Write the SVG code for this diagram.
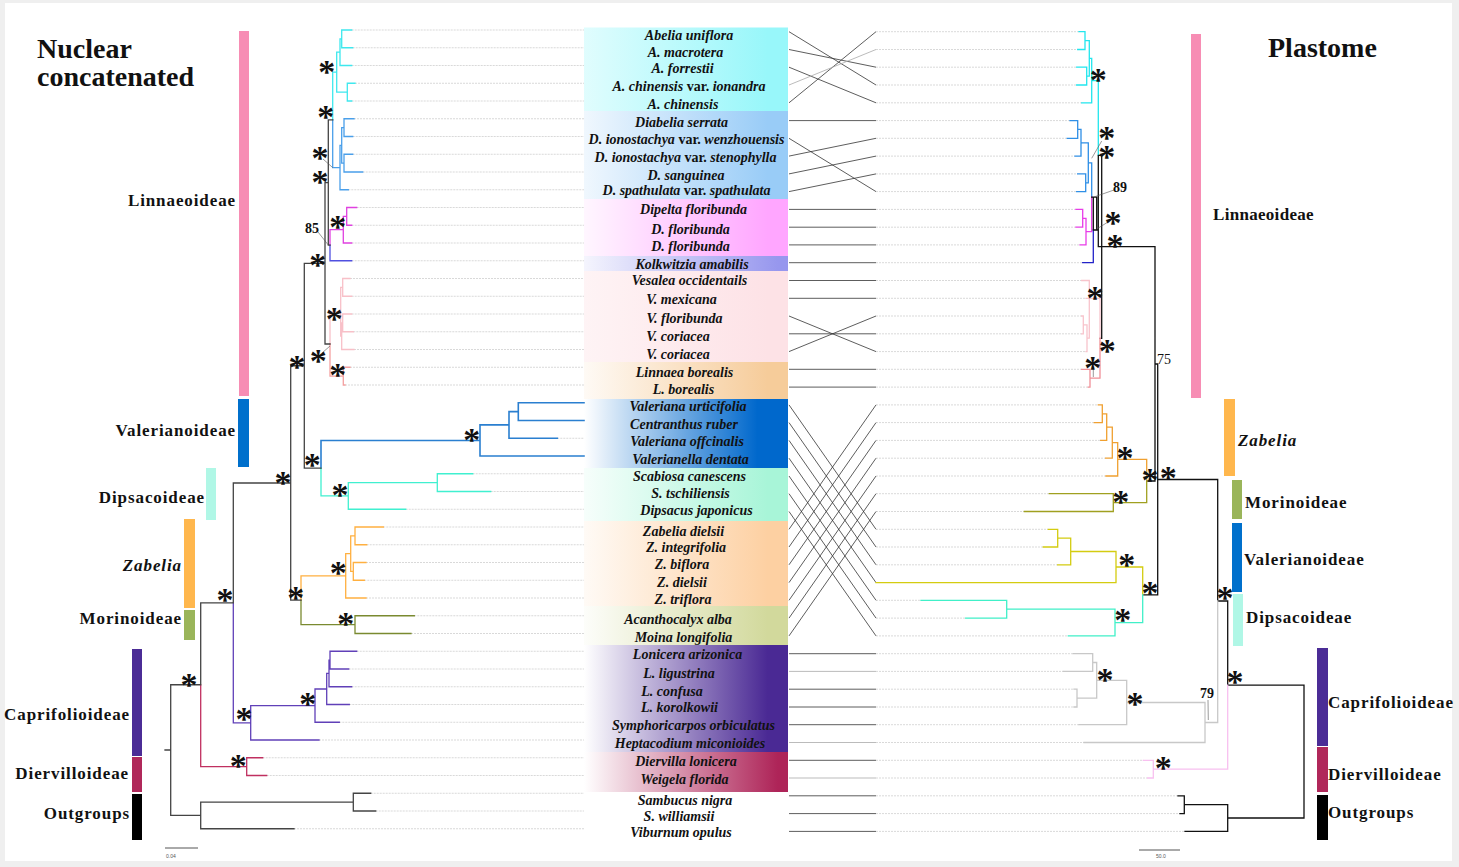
<svg xmlns="http://www.w3.org/2000/svg" width="1459" height="867" viewBox="0 0 1459 867">
<style>
.tx{font-family:"Liberation Serif",serif;font-weight:bold;font-style:italic;font-size:14px;text-anchor:middle;fill:#111}
.up{font-style:normal}
.cl{font-family:"Liberation Serif",serif;font-weight:bold;font-size:17px;letter-spacing:0.9px;fill:#111}
.cle{font-family:"Liberation Serif",serif;font-weight:bold;font-size:17px;letter-spacing:0.9px;fill:#111;text-anchor:end}
.ti{font-family:"Liberation Serif",serif;font-weight:bold;font-size:28px;fill:#111}
.st{font-family:"Liberation Serif",serif;font-weight:bold;font-size:34px;text-anchor:middle;fill:#111}
.num{font-family:"Liberation Serif",serif;font-weight:bold;font-size:14px;text-anchor:middle;fill:#111}
.sm{font-family:"Liberation Sans",sans-serif;font-size:5px;fill:#555}
.br{fill:none;stroke-width:1.3;stroke-linecap:square}
.dot{fill:none;stroke:#cfcfcf;stroke-width:0.8;stroke-dasharray:2 1}
.tg{fill:none;stroke:#333;stroke-width:0.8}
.ld{fill:none;stroke:#555;stroke-width:0.6}
</style>
<defs>
<linearGradient id="gAb" x1="0" x2="1" y1="0" y2="0"><stop offset="0" stop-color="#98f7fa" stop-opacity="0.3"/><stop offset="0.9" stop-color="#98f7fa"/></linearGradient>
<linearGradient id="gDi" x1="0" x2="1" y1="0" y2="0"><stop offset="0" stop-color="#99ccf7" stop-opacity="0.15"/><stop offset="0.9" stop-color="#99ccf7"/></linearGradient>
<linearGradient id="gDp" x1="0" x2="1" y1="0" y2="0"><stop offset="0" stop-color="#ffa6ff" stop-opacity="0.1"/><stop offset="0.9" stop-color="#ffa6ff"/></linearGradient>
<linearGradient id="gKo" x1="0" x2="1" y1="0" y2="0"><stop offset="0" stop-color="#9797ee" stop-opacity="0.1"/><stop offset="0.95" stop-color="#9797ee"/></linearGradient>
<linearGradient id="gVe" x1="0" x2="1" y1="0" y2="0"><stop offset="0" stop-color="#fde2e6" stop-opacity="0.4"/><stop offset="0.9" stop-color="#fde2e6"/></linearGradient>
<linearGradient id="gLi" x1="0" x2="1" y1="0" y2="0"><stop offset="0" stop-color="#f6cc9a" stop-opacity="0.1"/><stop offset="0.9" stop-color="#f6cc9a"/></linearGradient>
<linearGradient id="gVa" x1="0" x2="1" y1="0" y2="0"><stop offset="0" stop-color="#0068cc" stop-opacity="0"/><stop offset="0.85" stop-color="#0068cc"/></linearGradient>
<linearGradient id="gDs" x1="0" x2="1" y1="0" y2="0"><stop offset="0" stop-color="#a8f5d8" stop-opacity="0.1"/><stop offset="0.9" stop-color="#a8f5d8"/></linearGradient>
<linearGradient id="gZa" x1="0" x2="1" y1="0" y2="0"><stop offset="0" stop-color="#fdd0a2" stop-opacity="0.1"/><stop offset="0.9" stop-color="#fdd0a2"/></linearGradient>
<linearGradient id="gMo" x1="0" x2="1" y1="0" y2="0"><stop offset="0" stop-color="#d2d99c" stop-opacity="0.05"/><stop offset="0.9" stop-color="#d2d99c"/></linearGradient>
<linearGradient id="gCa" x1="0" x2="1" y1="0" y2="0"><stop offset="0" stop-color="#4a2994" stop-opacity="0"/><stop offset="0.9" stop-color="#4a2994"/></linearGradient>
<linearGradient id="gDv" x1="0" x2="1" y1="0" y2="0"><stop offset="0" stop-color="#ae2458" stop-opacity="0"/><stop offset="0.95" stop-color="#ae2458"/></linearGradient>
</defs>
<rect x="0" y="0" width="1459" height="867" fill="#efefef"/>
<rect x="5" y="3" width="1447" height="858" fill="#fff"/>

<g id="titles">
<text class="ti" x="37" y="58">Nuclear</text>
<text class="ti" x="37" y="86">concatenated</text>
<text class="ti" x="1268" y="57">Plastome</text>
</g>

<g id="left-clades">
<rect x="239" y="31" width="10" height="365" fill="#f78db4"/>
<text class="cle" x="236" y="206">Linnaeoideae</text>
<rect x="238" y="399" width="11" height="68" fill="#0070cc"/>
<text class="cle" x="236" y="436">Valerianoideae</text>
<rect x="206" y="468" width="10" height="52" fill="#b0f7e6"/>
<text class="cle" x="205" y="503">Dipsacoideae</text>
<rect x="184" y="519" width="11" height="89" fill="#ffb74d"/>
<text class="cle" x="182" y="571" style="font-style:italic">Zabelia</text>
<rect x="184" y="610" width="11" height="30" fill="#9ab55a"/>
<text class="cle" x="182" y="624">Morinoideae</text>
<rect x="132" y="649" width="10" height="107" fill="#4b2c96"/>
<text class="cle" x="130" y="720">Caprifolioideae</text>
<rect x="132" y="757" width="10" height="35" fill="#b0285a"/>
<text class="cle" x="129" y="779">Diervilloideae</text>
<rect x="132" y="794" width="10" height="46" fill="#000"/>
<text class="cle" x="130" y="819">Outgroups</text>
</g>

<g id="right-clades">
<rect x="1191" y="34" width="10" height="364" fill="#f78db4"/>
<text class="cl" x="1213" y="220" style="letter-spacing:0.3px">Linnaeoideae</text>
<rect x="1224" y="399" width="11" height="77" fill="#ffb74d"/>
<text class="cl" x="1238" y="446" style="font-style:italic">Zabelia</text>
<rect x="1232" y="480" width="10" height="39" fill="#9ab55a"/>
<text class="cl" x="1245" y="508">Morinoideae</text>
<rect x="1232" y="523" width="10" height="69" fill="#0070cc"/>
<text class="cl" x="1244" y="565">Valerianoideae</text>
<rect x="1233" y="594" width="10" height="52" fill="#b0f7e6"/>
<text class="cl" x="1246" y="623">Dipsacoideae</text>
<rect x="1317" y="648" width="11" height="98" fill="#4b2c96"/>
<text class="cl" x="1328" y="708">Caprifolioideae</text>
<rect x="1317" y="747" width="11" height="45" fill="#b0285a"/>
<text class="cl" x="1328" y="780">Diervilloideae</text>
<rect x="1317" y="795" width="11" height="45" fill="#000"/>
<text class="cl" x="1328" y="818">Outgroups</text>
</g>

<g id="bands">
<rect x="584" y="27.5" width="204" height="83.5" fill="url(#gAb)"/>
<rect x="584" y="111" width="204" height="88" fill="url(#gDi)"/>
<rect x="584" y="199" width="204" height="57" fill="url(#gDp)"/>
<rect x="584" y="256" width="204" height="15" fill="url(#gKo)"/>
<rect x="584" y="271" width="204" height="91" fill="url(#gVe)"/>
<rect x="584" y="362" width="204" height="37" fill="url(#gLi)"/>
<rect x="584" y="399" width="204" height="69" fill="url(#gVa)"/>
<rect x="584" y="468" width="204" height="53" fill="url(#gDs)"/>
<rect x="584" y="521" width="204" height="85" fill="url(#gZa)"/>
<rect x="584" y="606" width="204" height="39" fill="url(#gMo)"/>
<rect x="584" y="645" width="204" height="107" fill="url(#gCa)"/>
<rect x="584" y="752" width="204" height="40" fill="url(#gDv)"/>
</g>

<g id="taxa">
<text class="tx" x="689" y="40">Abelia uniflora</text>
<text class="tx" x="685.5" y="57">A. macrotera</text>
<text class="tx" x="682.5" y="73">A. forrestii</text>
<text class="tx" x="689" y="91">A. chinensis <tspan class="up">var.</tspan> ionandra</text>
<text class="tx" x="683" y="108.5">A. chinensis</text>
<text class="tx" x="681.5" y="126.5">Diabelia serrata</text>
<text class="tx" x="686.5" y="144">D. ionostachya <tspan class="up">var.</tspan> wenzhouensis</text>
<text class="tx" x="685.5" y="162">D. ionostachya <tspan class="up">var.</tspan> stenophylla</text>
<text class="tx" x="686" y="180">D. sanguinea</text>
<text class="tx" x="686.5" y="195">D. spathulata <tspan class="up">var.</tspan> spathulata</text>
<text class="tx" x="693.5" y="214">Dipelta floribunda</text>
<text class="tx" x="690.5" y="233.5">D. floribunda</text>
<text class="tx" x="690.5" y="251">D. floribunda</text>
<text class="tx" x="692" y="268.5">Kolkwitzia amabilis</text>
<text class="tx" x="689.5" y="285">Vesalea occidentails</text>
<text class="tx" x="681.5" y="304">V. mexicana</text>
<text class="tx" x="684.5" y="323">V. floribunda</text>
<text class="tx" x="678" y="341">V. coriacea</text>
<text class="tx" x="678" y="359">V. coriacea</text>
<text class="tx" x="684.5" y="377">Linnaea borealis</text>
<text class="tx" x="683.5" y="394">L. borealis</text>
<text class="tx" x="688" y="411">Valeriana urticifolia</text>
<text class="tx" x="684" y="428.5">Centranthus ruber</text>
<text class="tx" x="687" y="446">Valeriana offcinalis</text>
<text class="tx" x="690.5" y="464">Valerianella dentata</text>
<text class="tx" x="689.5" y="480.5">Scabiosa canescens</text>
<text class="tx" x="690.5" y="498">S. tschiliensis</text>
<text class="tx" x="696.5" y="515">Dipsacus japonicus</text>
<text class="tx" x="683.5" y="535.5">Zabelia dielsii</text>
<text class="tx" x="686" y="552">Z. integrifolia</text>
<text class="tx" x="682" y="569">Z. biflora</text>
<text class="tx" x="682" y="587">Z. dielsii</text>
<text class="tx" x="683" y="604">Z. triflora</text>
<text class="tx" x="678" y="623.5">Acanthocalyx alba</text>
<text class="tx" x="683.5" y="641.5">Moina longifolia</text>
<text class="tx" x="687.5" y="658.5">Lonicera arizonica</text>
<text class="tx" x="679" y="678">L. ligustrina</text>
<text class="tx" x="672" y="696">L. confusa</text>
<text class="tx" x="679.5" y="711.5">L. korolkowii</text>
<text class="tx" x="693.5" y="729.5">Symphoricarpos orbiculatus</text>
<text class="tx" x="690" y="748">Heptacodium miconioides</text>
<text class="tx" x="686" y="765.5">Diervilla lonicera</text>
<text class="tx" x="684.5" y="783.5">Weigela florida</text>
<text class="tx" x="685" y="805">Sambucus nigra</text>
<text class="tx" x="679" y="820.5">S. williamsii</text>
<text class="tx" x="681" y="836.5">Viburnum opulus</text>
</g>

<g id="connectors">
<path class="dot" d="M351.7,30H584M352.7,47.75H584M351.7,65.5H584M355,83.25H584M351.7,101H584M354,118.75H584M352.7,136.5H584M352.7,154.25H584M362.7,172H584M348.3,189.75H584M356.7,207.5H584M351.7,225.25H584M351.7,243H584M351.7,260.75H584M350,278.5H584M351.7,296.25H584M351.7,314H584M353.3,331.75H584M354,349.5H584M350,367.25H584M345,385H584M557.3,438.25H584M472.7,473.75H584M490.7,491.5H584M405.7,509.25H584M383.3,527H584M366.7,544.75H584M366,562.5H584M364.3,580.25H584M366,598H584M414.3,615.75H584M411,633.5H584M356.7,651.25H584M348.7,669H584M351.7,686.75H584M349.3,704.5H584M339.3,722.25H584M319,740H584M262.7,757.75H584M266.7,775.5H584M370.7,793.25H584M375.7,811H584M294,828.75H584"/>
<path class="dot" d="M876,31.7H1079M876,49.5H1077.7M876,67.2H1076.7M876,85H1076.7M876,102.8H1081.7M876,120.6H1070M876,138.3H1067.3M876,156.1H1075M876,173.9H1077.7M876,191.6H1076.7M876,209.4H1076M876,227.2H1076M876,244.9H1080M876,262.7H1082.7M876,280.5H1081.7M876,298.3H1086M876,316H1081.7M876,333.8H1081.7M876,351.6H1086M876,369.3H1081.7M876,387.1H1088.3M876,404.9H1098.3M876,422.6H1094.3M876,440.4H1100.7M876,458.2H1105.7M876,476H1106M876,493.7H1049.3M876,511.5H1024.3M876,529.3H1048.3M876,547H1043.3M876,564.8H1057.7M876,600.3H921M876,618.1H965.7M876,635.9H1068.3M876,653.7H1073.3M876,671.4H1063.3M876,689.2H1074M876,707H1074M876,724.7H1079M876,742.5H1084M876,760.3H1143.3M876,778H1147.7M876,795.8H1178M876,813.6H1180M876,831.4H1185"/>
<path class="tg" d="M789,31.7L876,85M789,49.5L876,67.2M789,67.2L876,102.8M789,102.8L876,31.7M789,120.6L876,120.6M789,138.3L876,191.6M789,156.1L876,138.3M789,173.9L876,156.1M789,191.6L876,173.9M789,209.4L876,209.4M789,227.2L876,227.2M789,244.9L876,244.9M789,262.7L876,262.7M789,280.5L876,280.5M789,298.3L876,298.3M789,316L876,351.6M789,333.8L876,333.8M789,351.6L876,316M789,369.3L876,369.3M789,387.1L876,387.1M789,404.9L876,529.3M789,422.6L876,547M789,440.4L876,564.8M789,458.2L876,582.6M789,476L876,600.3M789,493.7L876,618.1M789,511.5L876,635.9M789,529.3L876,404.9M789,547L876,422.6M789,564.8L876,440.4M789,582.6L876,458.2M789,600.3L876,476M789,618.1L876,493.7M789,635.9L876,511.5M789,653.7H876M789,689.2H876M789,707H876M789,724.7H876M789,760.3H876M789,795.8H876M789,813.6H876M789,831.4H876"/>
<path class="tg" style="stroke:#aaa" d="M789,85L876,49.5M789,671.4H876M789,742.5H876M789,778H876"/>
</g>

<g id="left-tree">
<path class="br" stroke="#3ee8ee" d="M341.7,30H351.7M341.7,47.75H352.7M341.7,30V47.75M340,38.9H341.7M340,65.5H351.7M340,38.9V65.5M347.3,83.25H355M347.3,101H351.7M347.3,83.25V101M336.7,52.2H340M336.7,92.1H347.3M336.7,52.2V92.1M332.7,72.2H336.7M332.7,72.2V119.9"/>
<path class="br" stroke="#4a9fea" d="M344,118.75H354M344,136.5H352.7M344,118.75V136.5M344,154.25H352.7M344,172H362.7M344,154.25V172M341.7,127.6H344M341.7,163.1H344M341.7,127.6V163.1M340,145.4H341.7M340,189.75H348.3M340,145.4V189.75M332.7,167.6H340M332.7,119.9V167.6"/>
<path class="br" stroke="#e040e0" d="M346.7,207.5H356.7M346.7,225.25H351.7M346.7,207.5V225.25M343.3,216.4H346.7M343.3,243H351.7M343.3,216.4V243M330,229.7H343.3M330,229.7V245.2"/>
<path class="br" stroke="#5050e0" d="M330,260.75H351.7M330,245.2V260.75"/>
<path class="br" stroke="#f8c0c8" d="M342.7,278.5H350M342.7,296.25H351.7M342.7,278.5V296.25M342.7,314H351.7M342.7,331.75H353.3M342.7,314V331.75M341.7,322.9H342.7M341.7,349.5H354M341.7,322.9V349.5M340.7,287.4H342.7M340.7,336.2H341.7M340.7,287.4V336.2M330,311.8H340.7M330,311.8V344"/>
<path class="br" stroke="#f4a0a0" d="M343.3,367.25H350M343.3,385H345M343.3,367.25V385M330,376.1H343.3M330,344V376.1"/>
<path class="br" stroke="#2a7fd0" style="stroke-width:1.6" d="M518.3,402.75H584M518.3,420.5H584M518.3,402.75V420.5M509,411.6H518.3M509,438.25H557.3M509,411.6V438.25M480,424.9H509M480,456H584M480,424.9V456M321,440.5H480M321,440.5V468.2"/>
<path class="br" stroke="#40f0d0" d="M437.3,473.75H472.7M437.3,491.5H490.7M437.3,473.75V491.5M348.3,482.6H437.3M348.3,509.25H405.7M348.3,482.6V509.25M321,495.9H348.3M321,468.2V495.9"/>
<path class="br" stroke="#ffb040" d="M355,527H383.3M355,544.75H366.7M355,527V544.75M353.3,562.5H366M353.3,580.25H364.3M353.3,562.5V580.25M350.7,535.9H355M350.7,571.4H353.3M350.7,535.9V571.4M345.7,553.6H350.7M345.7,598H366M345.7,553.6V598M301,575.8H345.7M301,575.8V600.2"/>
<path class="br" stroke="#7a8a30" d="M355,615.75H414.3M355,633.5H411M355,615.75V633.5M301,624.6H355M301,600.2V624.6"/>
<path class="br" stroke="#6040b8" d="M330,651.25H356.7M330,669H348.7M330,651.25V669M329,660.1H330M329,686.75H351.7M329,660.1V686.75M326.7,673.4H329M326.7,704.5H349.3M326.7,673.4V704.5M315,689H326.7M315,722.25H339.3M315,689V722.25M250.7,705.6H315M250.7,740H319M250.7,705.6V740M233.3,722.8H250.7M233.3,602.9V722.8"/>
<path class="br" stroke="#c03060" d="M246.7,757.75H262.7M246.7,775.5H266.7M246.7,757.75V775.5M200.7,766.6H246.7M200.7,684.75V766.6"/>
<path class="br" stroke="#444" d="M328.3,119.9H332.7M328.3,245.2H330M328.3,119.9V245.2M325,182.6H328.3M325,344H330M325,182.6V344M304.3,263.3H325M304.3,468.2H321M304.3,263.3V468.2M290.7,365.75H304.3M290.7,600.2H301M290.7,365.75V600.2M233.3,483H290.7M233.3,483V602.9M200.7,602.9H233.3M200.7,602.9V684.75M170.7,684.75H200.7M353.3,793.25H370.7M353.3,811H375.7M353.3,793.25V811M200.7,802.1H353.3M200.7,828.75H294M200.7,802.1V828.75M170.7,815.4H200.7M170.7,684.75V815.4M165,750H170.7"/>
<path class="ld" d="M323,159L332.7,167.6M318,232L328.3,245M322,353L330,346"/>
<path stroke="#555" stroke-width="1" d="M165,848H198"/>
<text class="sm" x="166" y="858">0.04</text>
</g>

<g id="right-tree">
<path class="br" stroke="#22e6ee" d="M1079,31.7H1085V49.5H1077.7M1076.7,67.2H1086.7V85H1076.7M1085,40.6H1089.3V76.1H1086.7M1089.3,58.4H1091.7V102.8H1081.7M1091.7,80.6H1098.3V155.3"/>
<path class="br" stroke="#2f8fe6" d="M1070,120.6H1077.7V138.3H1067.3M1077.7,129.4H1081V156.1H1075M1077.7,173.9H1085.7V191.6H1076.7M1081,142.8H1088.3V182.8H1085.7M1088.3,162.8H1091.7V197.2"/>
<path class="br" stroke="#e83ce8" d="M1076,209.4H1082.7V227.2H1076M1082.7,218.3H1086V244.9H1080M1086,231.6H1091.7V197.2"/>
<path class="br" stroke="#2222c8" d="M1082.7,262.7H1093.3V230"/>
<path class="br" stroke="#111" d="M1091.7,197.2H1096.7V230M1093.3,197.2V230H1098.3M1098.3,155.3H1101.7M1098.3,155.3V246.7H1155M1101.7,155.3V338.3H1100M1155,246.7V481H1146.7M1155,364H1157.7M1157.7,364V594.8H1142.7M1157.7,479.5H1217.7V601H1227.7V685.1H1304V818H1227.7M1184.3,804.7H1227.7V831.4H1185M1178,795.8H1184.3V813.6H1180"/>
<path class="br" stroke="#f8c4cc" d="M1081.7,280.5H1089.3V338.2M1086,298.3H1100M1081.7,316H1083.3V333.8H1081.7M1083.3,324.9H1087V351.6H1086M1087,338.2H1089.3M1100,298.3V338.3"/>
<path class="br" stroke="#f09098" d="M1081.7,369.3H1090V387.1H1088.3M1090,378.2H1100V338.3"/>
<path class="br" stroke="#f0a030" d="M1098.3,404.9H1102.3V422.6H1094.3M1102.3,413.8H1106.7V440.4H1100.7M1106.7,427.1H1112.3V458.2H1105.7M1112.3,442.7H1117.7V476H1106M1117.7,459.3H1146.7V481"/>
<path class="br" stroke="#a0a020" d="M1049.3,493.7H1113.3V511.5H1024.3M1113.3,502.6H1146.7V481"/>
<path class="br" stroke="#d4cc10" d="M1048.3,529.3H1057.7V547H1043.3M1057.7,538.2H1070.7V564.8H1057.7M1070.7,551.5H1116V582.6H876M1116,567H1142.7V594.8"/>
<path class="br" stroke="#40f0c8" d="M921,600.3H1006.7V618.1H965.7M1006.7,609.2H1115V635.9H1068.3M1115,622.6H1142.7V594.8"/>
<path class="br" stroke="#c8c8c8" d="M1073.3,653.7H1092.7V671.4H1063.3M1074,689.2H1077V707H1074M1092.7,662.5H1096.7V698.1H1077M1096.7,680.3H1126.7V724.7H1079M1126.7,702.5H1205V742.5H1084M1205,722.5H1217.7V601"/>
<path class="br" stroke="#f8c0f0" d="M1143.3,760.3H1153.3V778H1147.7M1153.3,769.2H1227.7V685.1"/>
<path class="ld" d="M1101.7,141L1091.7,158.3M1114,190L1094,197M1108,222L1096.7,229M1093.3,368V377M1208,700L1208.3,720"/>
<path stroke="#555" stroke-width="1" d="M1139,850H1180"/>
<text class="sm" x="1156" y="858">50.0</text>
</g>

<g id="supports">
<text class="st" x="326.7" y="83.3">*</text>
<text class="st" x="325.7" y="127.9">*</text>
<text class="st" x="320" y="168.8">*</text>
<text class="st" x="320" y="192.8">*</text>
<text class="st" x="337.7" y="237.6">*</text>
<text class="num" x="312" y="233">85</text>
<text class="st" x="317.7" y="275.6">*</text>
<text class="st" x="334.3" y="329.9">*</text>
<text class="st" x="318.3" y="372.3">*</text>
<text class="st" x="337.7" y="385.6">*</text>
<text class="st" x="297" y="377.6">*</text>
<text class="st" x="283" y="493.6">*</text>
<text class="st" x="471.7" y="450.6">*</text>
<text class="st" x="312.3" y="476.3">*</text>
<text class="st" x="340" y="505.6">*</text>
<text class="st" x="338.3" y="583.9">*</text>
<text class="st" x="295.7" y="608.6">*</text>
<text class="st" x="345.7" y="634.6">*</text>
<text class="st" x="225" y="610.6">*</text>
<text class="st" x="189" y="695.6">*</text>
<text class="st" x="307.7" y="714.6">*</text>
<text class="st" x="244" y="729.9">*</text>
<text class="st" x="238.3" y="777.3">*</text>
<text class="st" x="1098.3" y="90.6">*</text>
<text class="st" x="1106.7" y="148.6">*</text>
<text class="st" x="1106.7" y="167.6">*</text>
<text class="num" x="1120" y="192">89</text>
<text class="st" x="1113" y="233.6">*</text>
<text class="st" x="1115" y="257.3">*</text>
<text class="st" x="1095" y="308.9">*</text>
<text class="st" x="1107.3" y="362.3">*</text>
<text class="st" x="1092.7" y="378.9">*</text>
<text class="num" x="1164" y="364" style="font-weight:normal">75</text>
<text class="st" x="1125" y="468.9">*</text>
<text class="st" x="1150" y="491.3">*</text>
<text class="st" x="1168.3" y="488.9">*</text>
<text class="st" x="1120.7" y="512.9">*</text>
<text class="st" x="1126.7" y="576.3">*</text>
<text class="st" x="1150" y="603.9">*</text>
<text class="st" x="1122.7" y="630.6">*</text>
<text class="st" x="1225" y="608.9">*</text>
<text class="st" x="1105" y="690.6">*</text>
<text class="st" x="1135" y="714.6">*</text>
<text class="num" x="1207" y="698">79</text>
<text class="st" x="1235" y="692.9">*</text>
<text class="st" x="1163.3" y="778.9">*</text>
</g>
</svg>
